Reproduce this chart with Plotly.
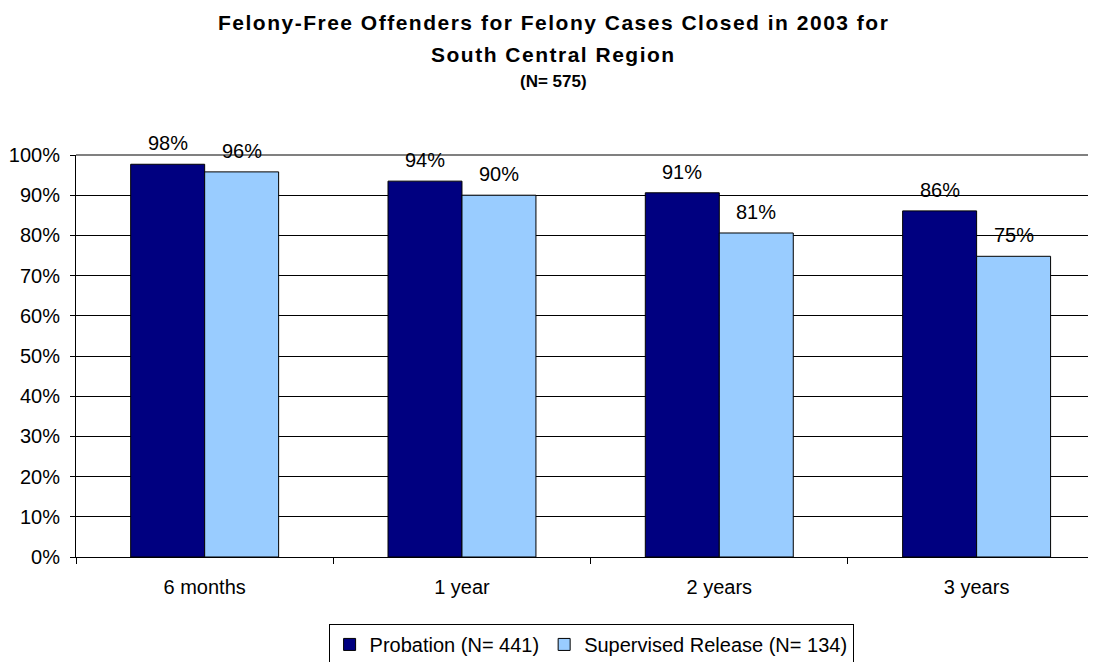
import plotly.graph_objects as go

# Dados
periodos = ["6 months", "1 year", "2 years", "3 years"]
probation = [0.977, 0.935, 0.906, 0.861]
supervised = [0.958, 0.900, 0.806, 0.748]
nomes = ["Probation (N= 441)", "Supervised Release (N= 134)"]
cores = ["#000080", "#99CCFF"]

FONT = "Arial, Liberation Sans, sans-serif"

fig = go.Figure()
for nome, valores, cor in zip(nomes, [probation, supervised], cores):
  fig.add_trace(go.Bar(
    x=periodos, y=valores, name=nome,
    marker=dict(color=cor, line=dict(color="black", width=1)),
  ))

# Rótulos de dados acima das barras
for i, p in enumerate(periodos):
  for valores, dx in [(probation, -37), (supervised, 37)]:
    fig.add_annotation(
      x=p, y=valores[i], xref="x", yref="y",
      text=f"{valores[i]:.0%}", showarrow=False,
      xshift=dx, yshift=21, yanchor="middle",
      font=dict(size=20, color="black", family=FONT),
    )

# Título: uma anotação por linha para controlar o espaçamento
ls = "letter-spacing:1.5px"
linhas_titulo = [
  (f"<b><span style='{ls}'>Felony-Free Offenders for Felony Cases Closed in 2003 for</span></b>", 21, 1.3284),
  (f"<b><span style='{ls}'>South Central Region</span></b>", 21, 1.2512),
  ("<b>(N= 575)</b>", 17, 1.1816),
]
for texto, tam, ypos in linhas_titulo:
  fig.add_annotation(
    xref="paper", yref="paper", x=0.468, y=ypos, xanchor="center", yanchor="middle",
    showarrow=False, text=texto, font=dict(size=tam, family=FONT, color="black"),
  )

# Borda superior cinza da área do gráfico
fig.add_shape(type="line", xref="paper", yref="paper", x0=0, x1=1, y0=1, y1=1,
              line=dict(color="#808080", width=2))

# a página tem 8px de margem no body, por isso a figura é 8px menor
fig.update_layout(
  width=1088, height=654,
  margin=dict(l=68, r=0, t=147, b=105, autoexpand=False),
  paper_bgcolor="white", plot_bgcolor="white",
  font=dict(family=FONT, size=20, color="black"),
  barmode="group", bargap=0.425, bargroupgap=0,
  legend=dict(
    orientation="h", x=0.505, xanchor="center", y=-0.1665, yanchor="top",
    bordercolor="black", borderwidth=1, font=dict(size=20),
    traceorder="normal",
  ),
  xaxis=dict(
    range=[-0.5, 3.464], showline=True, linecolor="black", linewidth=1,
    ticks="outside", tickson="boundaries", ticklen=6, tickcolor="black",
    ticklabelstandoff=12, showgrid=False, automargin=False,
  ),
  yaxis=dict(
    range=[0, 1], dtick=0.1, tickformat=".0%", showline=True,
    linecolor="black", linewidth=1, ticks="outside", ticklen=5,
    tickcolor="black", showgrid=True, gridcolor="black", gridwidth=1,
    zeroline=False, ticklabelstandoff=6, automargin=False,
  ),
)

fig.write_html("out.html")
